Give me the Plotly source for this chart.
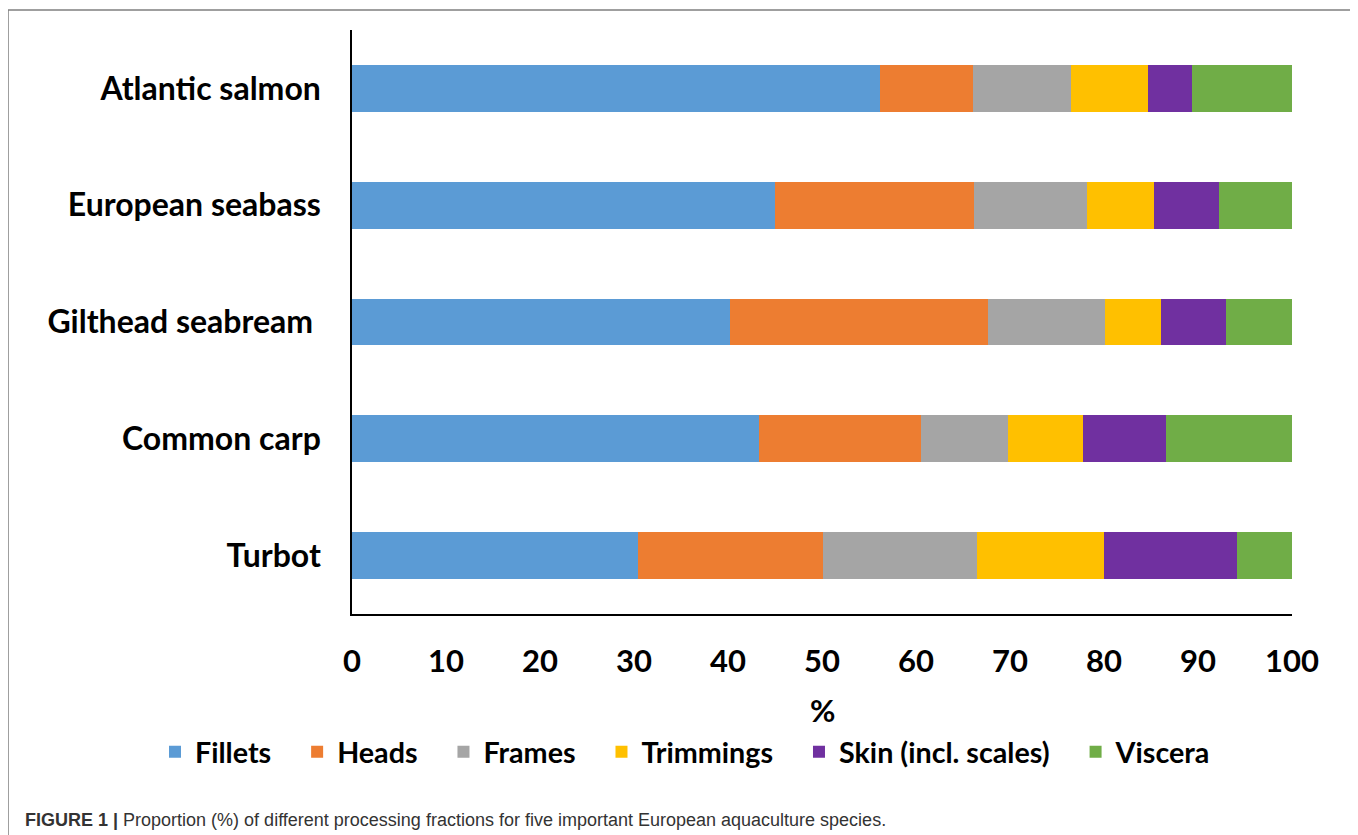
import plotly.graph_objects as go

species = ["Atlantic salmon", "European seabass", "Gilthead seabream\u00a0", "Common carp", "Turbot"]
fractions = ["Fillets", "Heads", "Frames", "Trimmings", "Skin (incl. scales)", "Viscera"]
colors = ["#5B9BD5", "#ED7D31", "#A5A5A5", "#FFC000", "#7030A0", "#70AD47"]

fillets = [56.2, 45.0, 40.2, 43.3, 30.4]
heads = [9.9, 21.2, 27.5, 17.2, 19.7]
frames = [10.4, 12.0, 12.4, 9.3, 16.4]
trimmings = [8.2, 7.1, 6.0, 8.0, 13.5]
skin = [4.7, 6.9, 6.9, 8.8, 14.2]
viscera = [10.6, 7.8, 7.0, 13.4, 5.8]

x_ticks = [0, 10, 20, 30, 40, 50, 60, 70, 80, 90, 100]
x_title = "%"
caption_bold = "FIGURE 1 |"
caption_text = "Proportion (%) of different processing fractions for five important European aquaculture species."

series = [fillets, heads, frames, trimmings, skin, viscera]

OFF = 8  # page body margin
W, H = 1358 - OFF, 835 - OFF
ML, MR = 352 - OFF, 66
MT = 30 - OFF
MB = H - (614 - OFF)
PW, PH = W - ML - MR, H - MT - MB


def px_x(p):
    return (p - OFF - ML) / PW


def px_y(p):
    return (H - MB - (p - OFF)) / PH


fig = go.Figure()
for name, vals, col in zip(fractions, series, colors):
    fig.add_trace(go.Bar(
        y=species, x=vals, name=name + "\u00a0" * 3, orientation="h",
        marker=dict(color=col, line=dict(width=0)),
    ))

bold = dict(family="Lato, 'Open Sans', sans-serif", size=31, color="#000000", weight="bold")

fig.update_layout(
    width=W, height=H,
    margin=dict(l=ML, r=MR, t=MT, b=MB, autoexpand=False),
    barmode="stack", bargap=0.6,
    paper_bgcolor="white", plot_bgcolor="white",
    showlegend=True,
    legend=dict(
        orientation="h", x=px_x(155), xanchor="left", y=px_y(752), yanchor="middle",
        font=dict(family="Lato, 'Open Sans', sans-serif", size=28.7, color="#000000", weight="bold"),
        traceorder="normal", bgcolor="rgba(0,0,0,0)",
    ),
    xaxis=dict(
        range=[0, 100], tickvals=x_ticks, ticktext=[str(t) for t in x_ticks],
        showgrid=False, zeroline=False, showline=True, linecolor="#000000", linewidth=1.5,
        ticks="", tickfont=bold, ticklabelstandoff=19, fixedrange=True,
    ),
    yaxis=dict(
        autorange="reversed", showgrid=False, zeroline=False, showline=True,
        linecolor="#000000", linewidth=1.5, ticks="", tickfont=dict(bold, size=32),
        ticklabelstandoff=23, fixedrange=True,
    ),
    shapes=[dict(
        type="rect", xref="paper", yref="paper",
        x0=px_x(8), x1=px_x(1355), y0=px_y(10), y1=px_y(860),
        line=dict(color="#808080", width=1.5), fillcolor="rgba(0,0,0,0)", layer="below",
    )],
    annotations=[
        dict(text=x_title, xref="paper", yref="paper", x=0.5, y=px_y(710),
             xanchor="center", yanchor="middle", showarrow=False, font=bold),
        dict(text="<b>" + caption_bold + "</b> " + caption_text, xref="paper", yref="paper",
             x=px_x(23), y=px_y(820), xanchor="left", yanchor="middle", showarrow=False,
             font=dict(family="Liberation Sans, Arial, sans-serif", size=18, color="#333333")),
    ],
)

fig.write_html("out.html")
